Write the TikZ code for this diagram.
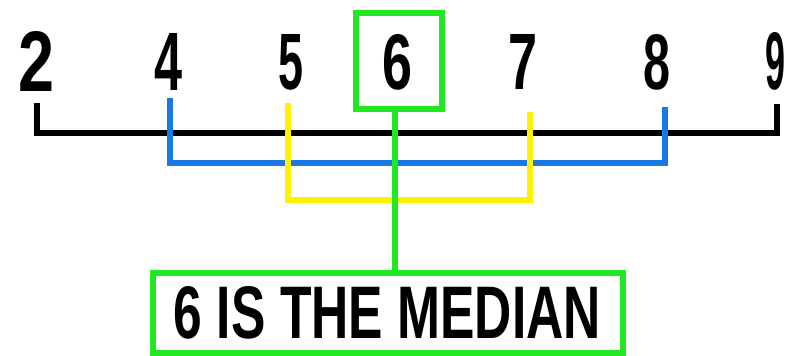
\documentclass[tikz,border=0pt]{standalone}
\usepackage{fontspec}
\setmainfont{Liberation Sans}
\usepackage{graphicx}
\definecolor{medgreen}{RGB}{34,232,34}
\definecolor{pairblue}{RGB}{25,120,230}
\definecolor{pairyellow}{RGB}{255,242,0}
\tikzset{
  digit/.style={inner sep=0pt, font=\bfseries},
  axisline/.style={line width=6pt, black, line join=miter},
  blueline/.style={line width=5.5pt, pairblue, line join=miter},
  yellowline/.style={line width=5.5pt, pairyellow, line join=miter},
  greenline/.style={line width=6pt, medgreen, line join=miter},
}
\newcommand{\dg}[1]{\resizebox{28pt}{57pt}{#1}}
\begin{document}
\begin{tikzpicture}[x=1pt,y=-1pt]
\useasboundingbox (0,0) rectangle (787,356);
% digits
\node[digit] (n2) at (37,61) {\resizebox{36pt}{60pt}{2}};
\node[digit] (n4) at (169,62) {\dg{4}};
\node[digit] (n5) at (291,62) {\resizebox{25pt}{55pt}{5}};
\node[digit] (n6) at (397,62) {\resizebox{30pt}{55pt}{6}};
\node[digit] (n7) at (523,62) {\resizebox{29pt}{55pt}{7}};
\node[digit] (n8) at (657,62) {\resizebox{27pt}{55pt}{8}};
\node[digit] (n9) at (775,61) {\resizebox{20pt}{57pt}{9}};
% green box around 6
\node[draw=medgreen, line width=6pt, minimum width=86pt, minimum height=96pt, inner sep=0pt] (sixbox) at (398.5,61) {};
% median box
\node[draw=medgreen, line width=6pt, minimum width=470pt, minimum height=80pt, inner sep=0pt] (median) at (387.5,313)
  {\bfseries\resizebox{427pt}{52pt}{6 IS THE MEDIAN}};
% coordinates
\coordinate (a2) at (37,103);
\coordinate (a9) at (777,104);
\coordinate (b4) at (170,98);
\coordinate (b8) at (665,107);
\coordinate (y5) at (288,103);
\coordinate (y7) at (530,112);
\coordinate (ax) at (0,133);
\coordinate (bx) at (0,163);
\coordinate (yx) at (0,200);
\coordinate (gx) at (395,0);
% axis
\draw[axisline] (a2) -- (a2 |- ax) -- (a9 |- ax) -- (a9);
% blue pair
\draw[blueline] (b4) -- (b4 |- bx) -- (b8 |- bx) -- (b8);
% yellow pair
\draw[yellowline] (y5) -- (y5 |- yx) -- (y7 |- yx) -- (y7);
% green connector
\draw[greenline] (gx |- sixbox.south) -- (gx |- median.north);
\end{tikzpicture}
\end{document}
